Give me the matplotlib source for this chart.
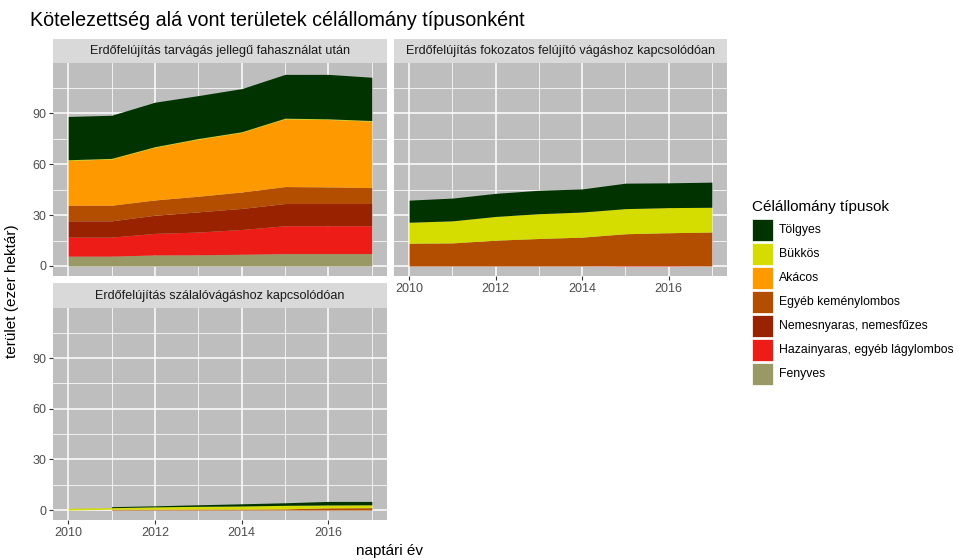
import numpy as np
import matplotlib
matplotlib.use("Agg")
import matplotlib.pyplot as plt
from matplotlib.patches import Rectangle

plt.rcParams["font.family"] = ["Liberation Sans", "DejaVu Sans"]

years = [2010, 2011, 2012, 2013, 2014, 2015, 2016, 2017]
types = ["Fenyves", "Hazainyaras, egyéb lágylombos", "Nemesnyaras, nemesfűzes",
         "Egyéb keménylombos", "Akácos", "Bükkös", "Tölgyes"]
colors = ["#999966", "#ee1c16", "#992200", "#b34d00", "#ff9900", "#d4dc00", "#003300"]
panel_titles = ["Erdőfelújítás tarvágás jellegű fahasználat után",
                "Erdőfelújítás fokozatos felújító vágáshoz kapcsolódóan",
                "Erdőfelújítás szálalóvágáshoz kapcsolódóan"]

nan = np.nan
# tarvágás jellegű fahasználat
t_fenyves = [5.8, 5.8, 6.5, 6.6, 6.9, 7.3, 7.3, 7.3]
t_hazai = [11.2, 11.2, 12.7, 13.4, 14.6, 16.4, 16.4, 16.4]
t_nemes = [9.6, 9.6, 10.7, 11.9, 12.4, 13.1, 13.1, 13.1]
t_egyeb = [9.2, 9.2, 9.0, 9.2, 9.7, 10.0, 9.8, 9.4]
t_akac = [26.4, 27.2, 31.0, 33.6, 35.1, 39.9, 39.7, 39.1]
t_bukk = [0.4, 0.4, 0.4, 0.4, 0.4, 0.4, 0.4, 0.4]
t_tolgy = [25.5, 25.4, 26.2, 25.3, 25.4, 25.8, 26.2, 25.5]

# fokozatos felújító vágás
f_fenyves = [0, 0, 0, 0, 0, 0, 0, 0]
f_hazai = [0, 0, 0, 0, 0, 0.3, 0.3, 0]
f_nemes = [0, 0, 0, 0, 0, 0, 0, 0]
f_egyeb = [13.4, 13.6, 15.2, 16.2, 17.0, 18.7, 19.3, 20.0]
f_akac = [0, 0, 0, 0, 0, 0, 0, 0]
f_bukk = [12.4, 13.0, 14.0, 14.6, 14.8, 14.8, 14.8, 14.6]
f_tolgy = [13.0, 13.4, 13.6, 13.8, 13.6, 15.0, 14.6, 14.8]

# szálalóvágás
s_fenyves = [0, 0, 0, 0, 0, 0, 0, 0]
s_hazai = [0, 0, 0, 0, 0, 0, 0, 0]
s_nemes = [0, 0, 0, 0, 0, 0, 0, 0]
s_egyeb = [nan, 0.5, 0.5, 0.6, 0.6, 0.7, 1.3, 1.4]
s_akac = [0, 0, 0, 0, 0, 0, 0, 0]
s_bukk = [1.0, 0.9, 1.4, 1.6, 1.8, 2.1, 1.7, 1.7]
s_tolgy = [nan, 0.6, 0.6, 0.9, 1.3, 1.5, 2.1, 2.0]

panels = [
    [t_fenyves, t_hazai, t_nemes, t_egyeb, t_akac, t_bukk, t_tolgy],
    [f_fenyves, f_hazai, f_nemes, f_egyeb, f_akac, f_bukk, f_tolgy],
    [s_fenyves, s_hazai, s_nemes, s_egyeb, s_akac, s_bukk, s_tolgy],
]

W, H = 958, 560
fig = plt.figure(figsize=(W / 100, H / 100), dpi=100)


def box(x0, y0, x1, y1):
    return [x0 / W, 1 - y1 / H, (x1 - x0) / W, (y1 - y0) / H]


panel_boxes = [(53, 63, 387, 276), (394, 63, 727, 276), (53, 308, 387, 520)]
strip_boxes = [(53, 39, 387, 63), (394, 39, 727, 63), (53, 283, 387, 308)]
show_y = [True, False, True]
show_x = [False, True, True]

for i in range(3):
    ax = fig.add_axes(box(*panel_boxes[i]))
    ax.set_facecolor("#bebebe")
    x = np.array(years)
    base = np.zeros(len(years))
    for vals, col in zip(panels[i], colors):
        v = np.array(vals, dtype=float)
        ok = ~np.isnan(v)
        v0 = np.nan_to_num(v)
        ax.fill_between(x, base, base + v0, where=ok, color=col, linewidth=0, zorder=2)
        base = base + v0
    ax.set_xlim(2009.65, 2017.35)
    ax.set_ylim(-5.9, 119.6)
    ax.set_xticks([2010, 2012, 2014, 2016])
    ax.set_xticks([2011, 2013, 2015, 2017], minor=True)
    ax.set_yticks([0, 30, 60, 90])
    ax.set_yticks([15, 45, 75, 105], minor=True)
    ax.grid(which="major", color="white", linewidth=1.1, zorder=0)
    ax.grid(which="minor", color="white", linewidth=0.55, zorder=0)
    ax.set_axisbelow(True)
    for s in ax.spines.values():
        s.set_visible(False)
    ax.tick_params(which="minor", length=0)
    ax.tick_params(which="major", length=3, width=0.8, color="#333333",
                   labelcolor="#4d4d4d", labelsize=9, pad=2)
    if not show_y[i]:
        ax.tick_params(axis="y", which="major", length=0, labelleft=False)
    if not show_x[i]:
        ax.tick_params(axis="x", which="major", length=0, labelbottom=False)

    sx = fig.add_axes(box(*strip_boxes[i]))
    sx.set_facecolor("#d9d9d9")
    sx.set_xticks([])
    sx.set_yticks([])
    for s in sx.spines.values():
        s.set_visible(False)
    sx.text(0.5, 0.5, panel_titles[i], ha="center", va="center",
            fontsize=9.1, color="#1a1a1a", transform=sx.transAxes)

fig.text(30 / W, 1 - 20 / H, "Kötelezettség alá vont területek célállomány típusonként",
         ha="left", va="center", fontsize=14.2, color="black")
fig.text(390 / W, 1 - 551 / H, "naptári év", ha="center", va="center", fontsize=11)
fig.text(12 / W, 1 - 291 / H, "terület (ezer hektár)", ha="center", va="center",
         rotation=90, fontsize=11)

# legend
fig.text(752 / W, 1 - 207 / H, "Célállomány típusok", ha="left", va="center", fontsize=11)
order = list(range(len(types)))[::-1]
for k, j in enumerate(order):
    y0 = 219 + 24 * k
    fig.patches.append(Rectangle((752 / W, 1 - (y0 + 22) / H), 21 / W, 22 / H,
                                 transform=fig.transFigure, facecolor=colors[j],
                                 edgecolor="white", linewidth=0.5))
    fig.text(779 / W, 1 - (y0 + 11) / H, types[j], ha="left", va="center",
             fontsize=8.8, color="black")

fig.savefig("out.png", dpi=100)
